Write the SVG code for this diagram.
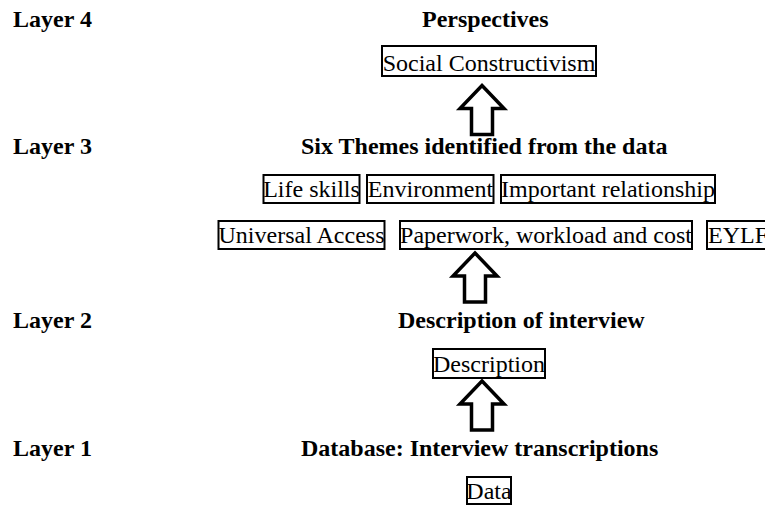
<svg xmlns="http://www.w3.org/2000/svg" xmlns:xlink="http://www.w3.org/1999/xlink" width="765" height="506" viewBox="0 0 765 506">
  <style>
    text { font-family: "Liberation Serif", "Times New Roman", serif; font-size: 24px; fill: #000; }
    .head { font-weight: bold; }
    .box rect { fill: #fff; stroke: #000; stroke-width: 2; }
    .box text { text-anchor: middle; }
    .arrow { fill: #fff; stroke: #000; stroke-width: 3.5; stroke-linejoin: miter; }
  </style>
  <defs>
    <!-- hollow block arrow pointing up, tip at origin -->
    <path id="up-arrow" d="M0,0 L22,23 L10.5,23 L10.5,49 L-10.5,49 L-10.5,23 L-22,23 Z"/>
  </defs>

  <rect width="765" height="506" fill="#fff"/>

  <!-- layer labels and headings -->
  <g id="layer4">
    <text class="head" x="13" y="27">Layer 4</text>
    <text class="head" x="422" y="27">Perspectives</text>
  </g>
  <g id="layer3">
    <text class="head" x="13" y="154">Layer 3</text>
    <text class="head" x="301" y="154">Six Themes identified from the data</text>
  </g>
  <g id="layer2">
    <text class="head" x="13" y="328">Layer 2</text>
    <text class="head" x="398" y="328">Description of interview</text>
  </g>
  <g id="layer1">
    <text class="head" x="13" y="456">Layer 1</text>
    <text class="head" x="301" y="456">Database: Interview transcriptions</text>
  </g>

  <!-- boxed items -->
  <g id="social-constructivism" class="box">
    <rect x="382" y="46" width="214" height="30"/>
    <text x="489" y="71">Social Constructivism</text>
  </g>
  <g id="life-skills" class="box">
    <rect x="263.5" y="175" width="96" height="28"/>
    <text x="311.5" y="197">Life skills</text>
  </g>
  <g id="environment" class="box">
    <rect x="367" y="175" width="126.5" height="28"/>
    <text x="430.5" y="197">Environment</text>
  </g>
  <g id="important-relationship" class="box">
    <rect x="501" y="175" width="214" height="28"/>
    <text x="608" y="197">Important relationship</text>
  </g>
  <g id="universal-access" class="box">
    <rect x="218.5" y="221" width="166" height="28"/>
    <text x="301.5" y="243">Universal Access</text>
  </g>
  <g id="paperwork" class="box">
    <rect x="400" y="221" width="292" height="28"/>
    <text x="546" y="243">Paperwork, workload and cost</text>
  </g>
  <g id="eylf" class="box">
    <rect x="707" y="221" width="64" height="28"/>
    <text x="708" y="243" style="text-anchor:start">EYLF</text>
  </g>
  <g id="description" class="box">
    <rect x="433" y="349" width="112" height="29"/>
    <text x="489" y="372">Description</text>
  </g>
  <g id="data" class="box">
    <rect x="467" y="477" width="44" height="27"/>
    <text x="489" y="499">Data</text>
  </g>

  <!-- connectors -->
  <g id="connectors" class="arrow">
    <use xlink:href="#up-arrow" x="482" y="85.5"/>
    <use xlink:href="#up-arrow" x="475" y="253"/>
    <use xlink:href="#up-arrow" x="482" y="381"/>
  </g>
</svg>
